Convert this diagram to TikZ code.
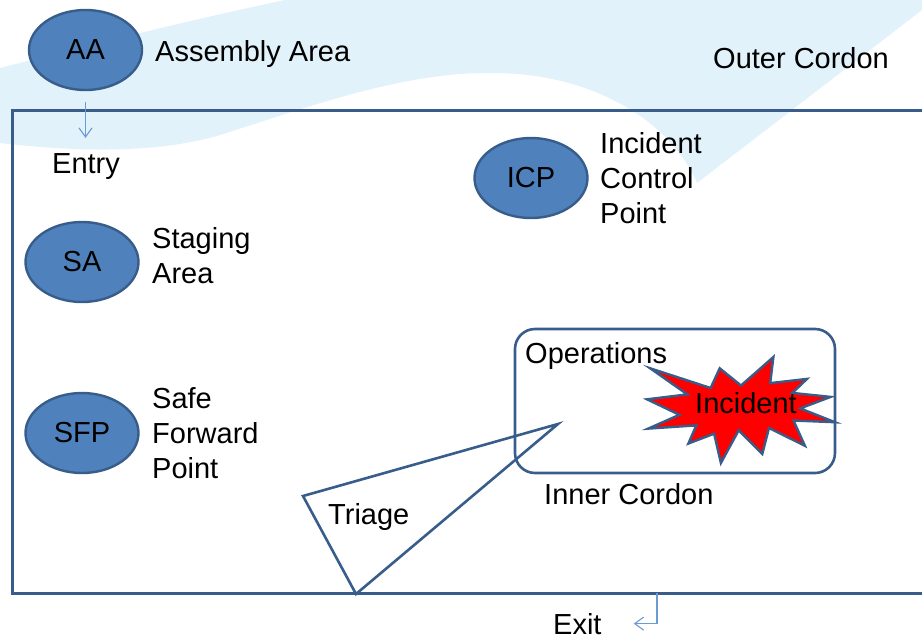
\documentclass[tikz,border=0pt]{standalone}
\usepackage{fontspec}
\setmainfont{Liberation Sans}
\usetikzlibrary{shapes.geometric,arrows.meta}
\definecolor{wash}{HTML}{E1F2FA}
\definecolor{zonefill}{HTML}{4F81BD}
\definecolor{zoneline}{HTML}{385D8A}
\definecolor{flowblue}{HTML}{6C9AD3}
\begin{document}
\begin{tikzpicture}[x=1pt,y=-1pt,
    every node/.style={font=\fontsize{29pt}{35pt}\selectfont,inner sep=0pt},
    zone/.style={ellipse,draw=zoneline,fill=zonefill,line width=2.4pt,minimum width=113pt,minimum height=80pt},
    lbl/.style={anchor=base west},
    lbls/.style={anchor=north west,align=left},
    cordon/.style={draw=zoneline,line width=2.6pt},
    flow/.style={draw=flowblue,line width=1.1pt,-{Straight Barb[length=9pt,width=13pt]}}]
    \useasboundingbox (0,0) rectangle (922,638);
    % background wave
    \fill[wash] (0,68) .. controls (90,45) and (190,20) .. (285,0) -- (922,0) -- (922,10) -- (697,183)
        .. controls (670,120) and (590,72) .. (490,73) .. controls (400,72) and (300,110) .. (220,135)
        .. controls (150,156) and (60,150) .. (0,143) -- cycle;
    % cordons and triage
    \draw[cordon,line width=3pt] (12,110) rectangle (940,593);
    \draw[cordon,rounded corners=20pt] (515,329) rectangle (835,473);
    \draw[cordon,line join=miter] (303,496) -- (558,424) -- (356,594) -- cycle;
    \fill[red,draw=zoneline,line width=2.4pt,line join=miter] (741,385.5) -- (773.4,357) -- (770.2,383.1) -- (807,378.9) -- (792.4,392.9) -- (830.6,396.9) -- (800.2,408.4) -- (835,422.2) -- (793.5,420.5) -- (804.9,445.8) -- (769,428) -- (762.3,453.9) -- (738.7,430.3) -- (720.9,463) -- (714.1,433.7) -- (688.4,443.5) -- (696.3,425.4) -- (648.2,428.6) -- (679.4,414.8) -- (647,399.3) -- (687.3,394.4) -- (650.2,368.3) -- (710.6,388) -- (719.7,368.3) -- cycle;
    % areas
    \node[zone] (aa) at (85.5,50) {AA};
    \node[zone] (icp) at (531,178) {ICP};
    \node[zone] (sa) at (82,262) {SA};
    \node[zone] (sfp) at (82,433) {SFP};
    \node[lbl] (aalbl) at (155,61) {Assembly Area};
    \node[lbl] (outer) at (713,68) {Outer Cordon};
    \node[lbl] (entry) at (52,173) {Entry};
    \node[lbls] (icplbl) at (600,132) {Incident\\Control\\Point};
    \node[lbls] (salbl) at (152,227) {Staging\\Area};
    \node[lbls] (sfplbl) at (152,387) {Safe\\Forward\\Point};
    \node[lbl] (ops) at (525,363) {Operations};
    \node[anchor=base] (incident) at (746,413) {Incident};
    \node[lbl] (inner) at (544,504) {Inner Cordon};
    \node[lbl] (triage) at (328,524) {Triage};
    \node[lbl] (exit) at (553,634) {Exit};
    % entry and exit
    \coordinate (exitdrop) at (657,593);
    \draw[flow] ([yshift=-11pt]aa.south) -- ([yshift=15pt]aa.south |- entry.north);
    \draw[flow] (exitdrop) |- ([xshift=32pt]exit.east);
\end{tikzpicture}
\end{document}
